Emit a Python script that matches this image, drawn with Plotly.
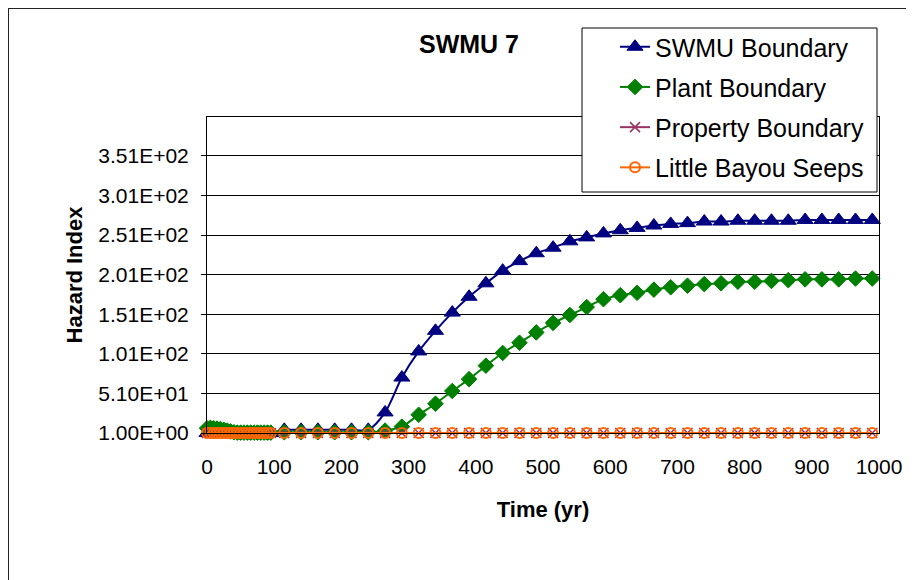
import plotly.graph_objects as go

# ---- data ----
time_early = [0, 5, 10, 15, 20, 25, 30, 35, 40, 45, 50, 55, 60, 65, 70, 75, 80, 85, 90, 95]
time_late = [115, 140, 165, 190, 215, 240, 265, 290, 315, 340, 365, 390, 415, 440, 465,
             490, 515, 540, 565, 590, 615, 640, 665, 690, 715, 740, 765, 790, 815, 840,
             865, 890, 915, 940, 965, 990]
time_yr = time_early + time_late

swmu_boundary = [1, 1, 1, 1, 1, 1, 1, 1, 1, 1, 1, 1, 1, 1, 1, 1, 1, 1, 1, 1,
                 5, 5, 5, 5, 5, 5, 27, 71, 104, 130, 153, 173, 190, 206, 218,
                 228, 235, 243, 248, 253, 257, 260, 263, 265, 266, 268, 268, 269, 269, 269,
                 269, 270, 270, 270, 270, 270]
plant_boundary = [7, 7.5, 7, 6.5, 6, 5, 4, 3, 2, 1.5, 1.5, 1.5, 1.5, 1.5, 1.5, 1.5, 1.5, 1.5, 1.5, 1.5,
                  2, 2, 2, 2, 2, 2, 4, 9, 24, 38, 54, 69, 86, 102, 115,
                  128, 140, 150, 160, 170, 175, 178, 182, 185, 187, 189, 190, 192, 192, 193,
                  194, 195, 195, 195, 196, 196]
property_boundary = [1] * len(time_yr)
little_bayou_seeps = [1] * len(time_yr)

y_tick_values = [1, 51, 101, 151, 201, 251, 301, 351]
y_tick_labels = ["1.00E+00", "5.10E+01", "1.01E+02", "1.51E+02",
                 "2.01E+02", "2.51E+02", "3.01E+02", "3.51E+02"]
x_tick_values = [0, 100, 200, 300, 400, 500, 600, 700, 800, 900, 1000]

FONT = "Arial, 'Liberation Sans', sans-serif"

series = [
    ("SWMU Boundary", swmu_boundary, "#000080",
     dict(symbol="triangle-up", size=14, color="#000080", line=dict(color="#000080", width=1))),
    ("Plant Boundary", plant_boundary, "#008000",
     dict(symbol="diamond", size=12, color="#008000", line=dict(color="#008000", width=1))),
    ("Property Boundary", property_boundary, "#993366",
     dict(symbol="x-thin", size=10, color="#993366", line=dict(color="#993366", width=1.5))),
    ("Little Bayou Seeps", little_bayou_seeps, "#FF6600",
     dict(symbol="circle-open", size=10, color="#FF6600", line=dict(color="#FF6600", width=2))),
]

fig = go.Figure()
for name, vals, col, mk in series:
    fig.add_trace(go.Scatter(
        x=time_yr, y=vals, name=name, mode="lines+markers",
        line=dict(color=col, width=2, shape="spline", smoothing=0.8),
        marker=mk, cliponaxis=False, legendgroup=name,
    ))

# figure coordinates (the page shows the figure offset by the 8px body margin)
W, H = 914, 580
L, R, T, B = 199, 43, 109, 155
pw, ph = W - L - R, H - T - B


def px2x(px):
    return (px - L) / pw


def py2y(py):
    return (H - B - py) / ph


fig.update_layout(
    width=W, height=H,
    margin=dict(l=L, r=R, t=T, b=B, autoexpand=False),
    paper_bgcolor="white", plot_bgcolor="white",
    font=dict(family=FONT, color="black"),
    showlegend=True,
    title=dict(text="<b>SWMU 7</b>", x=461 / W, xref="container", xanchor="center",
               y=1 - 36 / H, yref="container", yanchor="middle",
               font=dict(size=25, family=FONT, color="black")),
    legend=dict(x=px2x(607), y=py2y(16), xref="paper", yref="paper",
                xanchor="left", yanchor="top", bgcolor="rgba(0,0,0,0)", borderwidth=0,
                font=dict(size=25, family=FONT, color="black"),
                tracegroupgap=4.7, itemsizing="trace"),
    xaxis=dict(range=[0, 1000], tickvals=x_tick_values, showgrid=False, zeroline=False,
               showline=True, linecolor="black", linewidth=1, mirror=True,
               ticks="", tickfont=dict(size=21, family=FONT, color="black"),
               ticklabelstandoff=15, tickangle=0,
               title=dict(text="<b>Time (yr)</b>", font=dict(size=22, family=FONT, color="black"),
                          standoff=24)),
    yaxis=dict(range=[1, 400], tickvals=y_tick_values, ticktext=y_tick_labels,
               showgrid=True, gridcolor="black", gridwidth=1, zeroline=False,
               showline=True, linecolor="black", linewidth=1, mirror=True,
               ticks="outside", ticklen=5, tickcolor="black",
               tickfont=dict(size=21, family=FONT, color="black"),
               ticklabelstandoff=8,
               title=dict(text="<b>Hazard Index</b>", font=dict(size=22, family=FONT, color="black"),
                          standoff=9)),
    shapes=[
        # outer chart border (right/bottom edges lie outside the visible window)
        dict(type="rect", xref="paper", yref="paper",
             x0=px2x(0), x1=px2x(W + 30), y0=py2y(H + 30), y1=py2y(0),
             line=dict(color="#222", width=2), fillcolor="rgba(0,0,0,0)", layer="below"),
        # legend box
        dict(type="rect", xref="paper", yref="paper",
             x0=px2x(574), x1=px2x(869), y0=py2y(184), y1=py2y(20),
             line=dict(color="black", width=1), fillcolor="white", layer="above"),
    ],
)

fig.write_html("out.html")
